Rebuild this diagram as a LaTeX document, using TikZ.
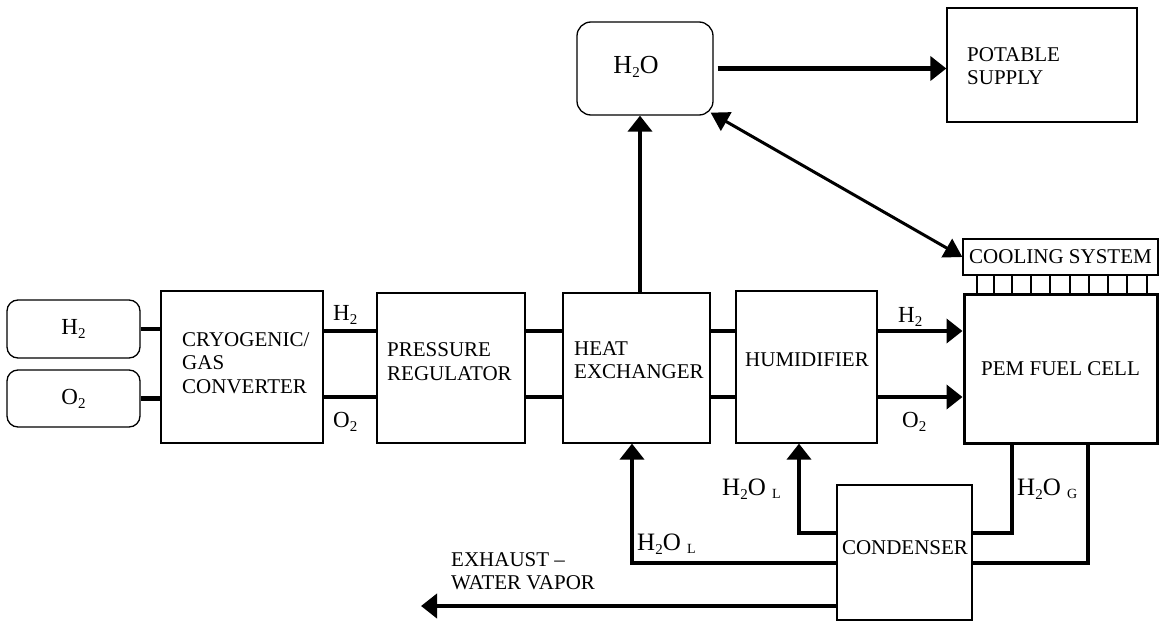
\documentclass[tikz,border=0pt]{standalone}
\usepackage{fontspec}
\setmainfont{Liberation Serif}
\usetikzlibrary{arrows.meta,calc}
\newcommand{\sbx}[1]{\raisebox{-4pt}{\fontsize{15}{15}\selectfont #1}}
\newcommand{\sbl}[1]{\raisebox{-3pt}{\fontsize{14}{14}\selectfont #1}}
\begin{document}
\begin{tikzpicture}[x=1pt,y=-1pt,
 box/.style={draw, line width=1.3pt, inner sep=0pt, rectangle},
 rbox/.style={box, rounded corners=11pt},
 txt/.style={inner sep=0pt, font=\fontsize{21}{23.3}\selectfont, align=left},
 lbl/.style={inner sep=0pt, font=\fontsize{23}{25}\selectfont, anchor=base west},
 conn/.style={line width=4.3pt},
 arr/.style={conn, -{Triangle[length=16pt,width=24pt]}},
 tick/.style={line width=1.3pt},
]
\useasboundingbox (0,0) rectangle (1159,621);

% source boxes
\node[rbox, minimum width=133pt, minimum height=58pt, font=\fontsize{23}{25}\selectfont] (h2src) at (73.5,329) {H\sbx{2}};
\node[rbox, minimum width=133pt, minimum height=57pt, font=\fontsize{23}{25}\selectfont] (o2src) at (73.5,398.5) {O\sbx{2}};

% main boxes
\node[box, minimum width=162pt, minimum height=152pt] (cryo) at (242,367) {};
\node[txt, anchor=west] (cryot) at (182,363) {CRYOGENIC/\\GAS\\CONVERTER};

\node[box, minimum width=148pt, minimum height=150pt] (press) at (451,368) {};
\node[txt, anchor=west] (presst) at (387,361.5) {PRESSURE\\REGULATOR};

\node[box, minimum width=147pt, minimum height=150pt] (hx) at (636.5,368) {};
\node[txt, anchor=west] (hxt) at (574,360) {HEAT\\EXCHANGER};

\node[box, minimum width=141pt, minimum height=152pt] (hum) at (806.5,367) {};
\node[txt] (humt) at (807,360) {HUMIDIFIER};

\node[box, line width=3pt, minimum width=193pt, minimum height=149pt, font=\fontsize{21}{23.3}\selectfont] (pem) at (1060.5,368.5) {PEM FUEL CELL};

\node[box, minimum width=195pt, minimum height=36pt, font=\fontsize{21}{23.3}\selectfont] (cool) at (1060.5,257) {COOLING SYSTEM};
\foreach \x in {977,994,1012,1031,1050,1070,1089,1108,1127,1147}
  \draw[tick] (\x,0 |- cool.south) -- (\x,0 |- pem.north);

\node[rbox, rounded corners=14pt, minimum width=136pt, minimum height=93pt] (h2o) at (645,68.5) {};
\node[inner sep=0pt, font=\fontsize{26}{28}\selectfont] (h2ot) at (636,67) {H\sbx{2}O};

\node[box, minimum width=190pt, minimum height=114pt] (pot) at (1042,65) {};
\node[txt, anchor=west] (pott) at (967,66) {POTABLE\\SUPPLY};

\node[box, minimum width=135pt, minimum height=135pt] (cond) at (904.5,552.5) {};
\node[txt] (condt) at (905,548) {CONDENSER};

% source -> cryo
\draw[conn] (h2src.east) -- (h2src.east -| cryo.west);
\draw[conn] (o2src.east) -- (o2src.east -| cryo.west);

% gas lines
\draw[conn] (cryo.east |- 0,331) -- (press.west |- 0,331);
\draw[conn] (cryo.east |- 0,397) -- (press.west |- 0,397);
\draw[conn] (press.east |- 0,331) -- (hx.west |- 0,331);
\draw[conn] (press.east |- 0,397) -- (hx.west |- 0,397);
\draw[conn] (hx.east |- 0,331) -- (hum.west |- 0,331);
\draw[conn] (hx.east |- 0,397) -- (hum.west |- 0,397);
\draw[arr] (hum.east |- 0,331) -- (pem.west |- 0,331);
\draw[arr] (hum.east |- 0,397) -- (pem.west |- 0,397);

\node[lbl] (lh2a) at (333,320) {H\sbx{2}};
\node[lbl] (lo2a) at (333,427) {O\sbx{2}};
\node[lbl] (lh2b) at (898,322) {H\sbx{2}};
\node[lbl] (lo2b) at (902,427) {O\sbx{2}};

% water loop top
\draw[arr] (640,0 |- hx.north) -- (640,0 |- h2o.south);
\draw[arr] ([xshift=4pt]h2o.east) -- (pot.west |- h2o.east);
\draw[line width=3pt, {Triangle[length=18pt,width=21pt]}-{Triangle[length=18pt,width=21pt]}]
  ($(h2o.south east)+(-3,-3)$) -- (cool.west);

% condenser connections
\draw[arr] (cond.west |- 0,563) -| ([xshift=-4.5pt]hx.south);
\draw[arr] (cond.west |- 0,533) -| ([xshift=-7.5pt]hum.south);
\draw[conn] (cond.east |- 0,533) -| (1012,0 |- pem.south);
\draw[conn] (cond.east |- 0,563) -| (1088,0 |- pem.south);
\coordinate (exh) at (421,606);
\draw[arr] ([xshift=1pt]cond.west |- 0,606) -- (exh);

\node[lbl, font=\fontsize{25}{27}\selectfont] (lw1) at (637,550) {H\sbx{2}O \sbl{L}};
\node[lbl, font=\fontsize{25}{27}\selectfont] (lw2) at (722,495) {H\sbx{2}O \sbl{L}};
\node[lbl, font=\fontsize{25}{27}\selectfont] (lw3) at (1017,495) {H\sbx{2}O \sbl{G}};

\node[txt, anchor=west] (exht) at (451,571.5) {EXHAUST --\\WATER VAPOR};
\end{tikzpicture}
\end{document}
